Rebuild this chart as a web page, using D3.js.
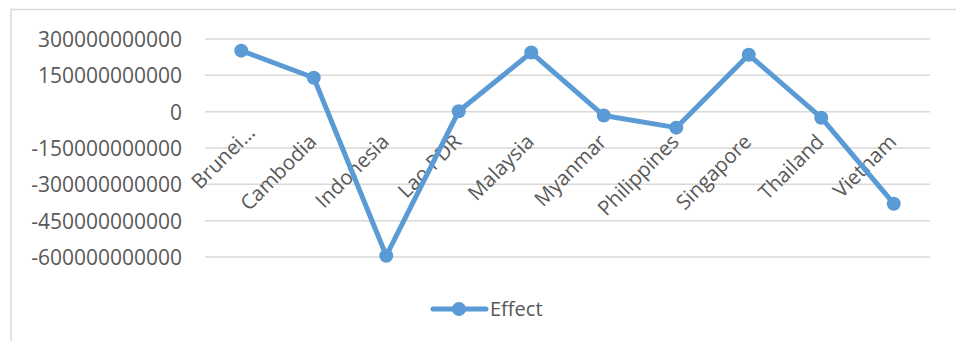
<!DOCTYPE html>
<html><head><meta charset="utf-8">
<script src="https://cdn.jsdelivr.net/npm/d3@7"></script>
<style>body{margin:0;background:#fff}svg{display:block}</style>
</head><body>
<svg id="c" width="956" height="341"></svg>
<script>
const categories = ["Brunei…","Cambodia","Indonesia","Lao PDR","Malaysia","Myanmar","Philippines","Singapore","Thailand","Vietnam"];
const effect = [252e9, 140e9, -595e9, 2e9, 244e9, -16e9, -66e9, 235e9, -25e9, -380e9];
const yTicks = [300e9, 150e9, 0, -150e9, -300e9, -450e9, -600e9];
const seriesName = "Effect";

const svg = d3.select("#c");
const font = "'Open Sans', sans-serif";
const color = "#5b9bd5";
svg.append("rect").attr("x",11).attr("y",9.5).attr("width",960).attr("height",340)
  .attr("fill","#fff").attr("stroke","#d9d9d9").attr("stroke-width",1.5);

const x = d3.scaleBand().domain(categories).range([205,930]);
const y = d3.scaleLinear().domain([-600e9,300e9]).range([257,39]);

const g = svg.append("g");
g.selectAll("line.grid").data(yTicks).join("line").attr("class","grid")
  .attr("x1",205).attr("x2",930).attr("y1",d=>y(d)).attr("y2",d=>y(d))
  .attr("stroke","#d9d9d9").attr("stroke-width",1.5);

const yAxis = d3.axisLeft(y).tickValues(yTicks).tickSize(0).tickPadding(0)
  .tickFormat(d=>String(Math.round(d)));
const ya = svg.append("g").attr("transform","translate(182,0)").call(yAxis);
ya.select(".domain").remove();
ya.selectAll("text").attr("font-family",font).attr("font-size",21).attr("fill","#595959").attr("dy","0.36em");

const xAxis = d3.axisBottom(x).tickSize(0).tickPadding(0);
const xa = svg.append("g").call(xAxis);
xa.select(".domain").remove();
xa.selectAll(".tick text")
  .attr("font-family",font).attr("font-size",20.5).attr("fill","#595959")
  .attr("text-anchor","end").attr("y",0).attr("dy",0)
  .attr("transform",(d,i)=> i===0 ? "translate(15,134) rotate(-45)" : "translate(4,143) rotate(-45)");

const line = d3.line().x((d,i)=>x(categories[i])+x.bandwidth()/2).y(d=>y(d));
svg.append("path").datum(effect).attr("d",line).attr("fill","none")
  .attr("stroke",color).attr("stroke-width",5).attr("stroke-linejoin","round");
svg.selectAll("circle.pt").data(effect).join("circle").attr("class","pt")
  .attr("cx",(d,i)=>x(categories[i])+x.bandwidth()/2).attr("cy",d=>y(d)).attr("r",7).attr("fill",color);

const lg = svg.append("g");
lg.append("line").attr("x1",433).attr("x2",486).attr("y1",309).attr("y2",309)
  .attr("stroke",color).attr("stroke-width",5).attr("stroke-linecap","round");
lg.append("circle").attr("cx",459).attr("cy",309).attr("r",7).attr("fill",color);
lg.append("text").attr("x",490).attr("y",309).attr("dy","0.36em").text(seriesName)
  .attr("font-family",font).attr("font-size",20).attr("fill","#595959");
</script>
</body></html>
